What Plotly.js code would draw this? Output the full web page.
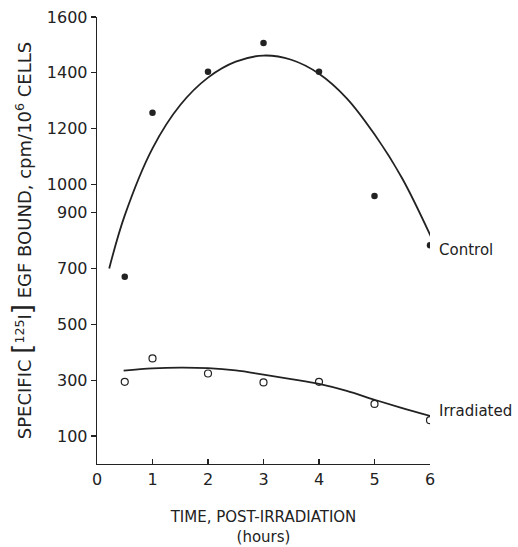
<!DOCTYPE html>
<html>
<head>
<meta charset="utf-8">
<script src="https://cdn.plot.ly/plotly-3.0.1.min.js"></script>
<style>html,body{margin:0;padding:0;background:#fff;}#chart{width:518px;height:547px;}</style>
</head>
<body>
<div id="chart"></div>
<script>
// Measured points (hours post-irradiation)
const hours = [0.5, 1, 2, 3, 4, 5, 6];
const controlValues = [670, 1257, 1404, 1507, 1404, 959, 783];
const irradiatedValues = [294, 378, 324, 292, 294, 215, 157];

// Hand-drawn fitted curves
const controlCurveX = [0.22, 0.5, 1.0, 1.5, 2.0, 2.5, 3.0, 3.5, 4.0, 4.5, 5.0, 5.5, 6.03];
const controlCurveY = [700, 890, 1130, 1285, 1383, 1440, 1462, 1447, 1397, 1309, 1180, 1022, 808];
const irradiatedCurveX = [0.48, 1.0, 1.5, 2.0, 2.5, 3.0, 3.5, 4.0, 4.5, 5.0, 5.5, 6.0];
const irradiatedCurveY = [334, 342, 345, 343, 335, 320, 304, 287, 262, 230, 200, 172];

// Axis ticks
const xTickVals = [0, 1, 2, 3, 4, 5, 6];
const yTickVals = [100, 300, 500, 700, 900, 1000, 1200, 1400, 1600];

// Series labels
const seriesNames = ["Control", "Irradiated"];
const labelY = [766, 190];

const ink = "#222";
const font = "DejaVu Sans, sans-serif";

const traces = [
  {x: controlCurveX, y: controlCurveY, mode: "lines", line: {shape: "spline", smoothing: 1, color: ink, width: 1.8}, hoverinfo: "skip", showlegend: false},
  {x: irradiatedCurveX, y: irradiatedCurveY, mode: "lines", line: {shape: "spline", smoothing: 1, color: ink, width: 1.8}, hoverinfo: "skip", showlegend: false},
  {x: hours, y: controlValues, name: seriesNames[0], mode: "markers", marker: {symbol: "circle", size: 6.5, color: ink}, showlegend: false},
  {x: hours, y: irradiatedValues, name: seriesNames[1], mode: "markers", marker: {symbol: "circle-open", size: 7, color: ink, line: {width: 1.2, color: ink}}, showlegend: false}
];

const layout = {
  width: 518, height: 547,
  margin: {l: 97, r: 88, t: 17, b: 83},
  paper_bgcolor: "#fff", plot_bgcolor: "#fff",
  font: {family: font, color: ink, size: 15},
  xaxis: {
    range: [0, 6], tickvals: xTickVals, ticktext: xTickVals.map(String),
    showline: true, linecolor: ink, linewidth: 1.3, mirror: false,
    ticks: "inside", ticklen: 5, tickcolor: ink, tickwidth: 1.2,
    showgrid: false, zeroline: false,
    tickfont: {size: 16, family: font, color: ink},
    title: {text: "TIME, POST-IRRADIATION<br>(hours)", font: {size: 15, family: font, color: ink}, standoff: 24}
  },
  yaxis: {
    range: [0, 1600], tickvals: yTickVals, ticktext: yTickVals.map(String),
    showline: true, linecolor: ink, linewidth: 1.3,
    ticks: "outside", ticklen: 5, tickcolor: ink, tickwidth: 1.2,
    showgrid: false, zeroline: false,
    tickfont: {size: 16, family: font, color: ink},
    title: {text: "SPECIFIC <span style=\"font-size:26px\">[</span><sup>125</sup>I<span style=\"font-size:26px\">]</span> EGF BOUND, cpm/10<sup>6</sup> CELLS", font: {size: 18, family: font, color: ink}, standoff: 10}
  },
  annotations: [
    {x: 6, y: labelY[0], xref: "x", yref: "y", text: seriesNames[0], showarrow: false, xanchor: "left", xshift: 7, font: {size: 15, family: font, color: ink}},
    {x: 6, y: labelY[1], xref: "x", yref: "y", text: seriesNames[1], showarrow: false, xanchor: "left", xshift: 7, font: {size: 15, family: font, color: ink}}
  ]
};

Plotly.newPlot("chart", traces, layout, {staticPlot: true, displayModeBar: false});
</script>
</body>
</html>
